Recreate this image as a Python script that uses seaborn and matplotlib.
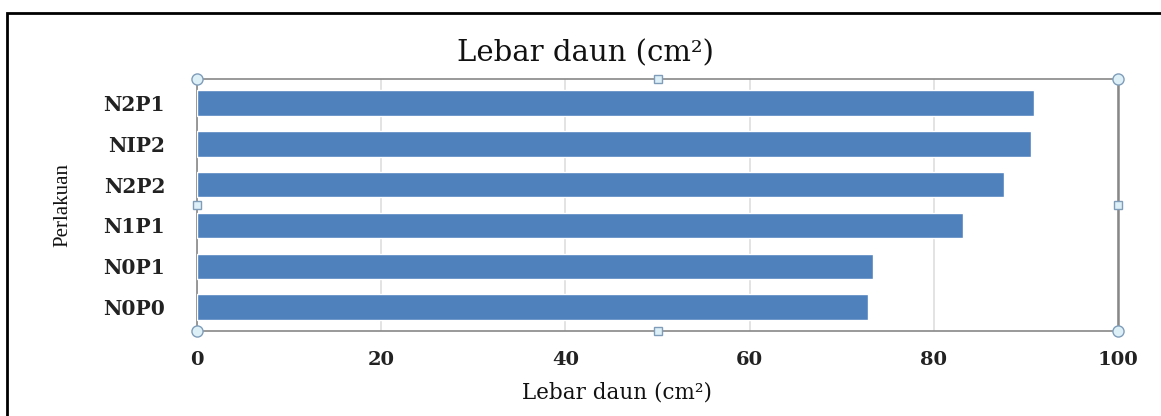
import matplotlib
matplotlib.use('Agg')
import matplotlib.pyplot as plt
import seaborn as sns
import pandas as pd
from matplotlib.patches import Rectangle

# data (top to bottom)
perlakuan = ['N2P1', 'NIP2', 'N2P2', 'N1P1', 'N0P1', 'N0P0']
lebar = [90.9, 90.5, 87.6, 83.2, 73.4, 72.9]
xticks = [0, 20, 40, 60, 80, 100]

df = pd.DataFrame({'Perlakuan': perlakuan, 'Lebar': lebar})

sns.set_theme(style='white')
plt.rcParams['font.family'] = ['DejaVu Serif']

fig = plt.figure(figsize=(11.61, 4.16), dpi=100)
ax = fig.add_axes([0.1697, 0.204, 0.7933, 0.606])

sns.barplot(data=df, y='Perlakuan', x='Lebar', color='#4F81BD', width=0.62,
            saturation=1, ax=ax, zorder=3)

ax.set_xlim(0, 100)
ax.set_xticks(xticks)
ax.set_xticklabels([str(t) for t in xticks], fontsize=14, fontweight='bold',
                   color='#222222')
ax.set_yticklabels(perlakuan, fontsize=14.5, fontweight='bold', color='#222222')
ax.tick_params(axis='both', length=0, pad=14)
ax.tick_params(axis='y', pad=23)
ax.grid(axis='x', color='#DEDEDE', linewidth=1.2, zorder=0)
for s in ax.spines.values():
    s.set_color('#888888')
    s.set_linewidth(1.2)
ax.spines['right'].set_linewidth(1.8)

ax.set_title('Lebar daun (cm²)', fontsize=21, x=0.422, pad=13, color='#111111')
ax.set_xlabel('Lebar daun (cm²)', fontsize=15.5, color='#111111')
ax.xaxis.set_label_coords(0.456, -0.2)
ax.set_ylabel('Perlakuan', fontsize=15, labelpad=22, color='#111111',
              family='Liberation Serif')

# selection handles like the source screenshot
for hx, hy in [(0, 1), (1, 1), (0, 0), (1, 0)]:
    ax.plot(hx, hy, 'o', transform=ax.transAxes, clip_on=False, ms=8,
            mfc='#DDF0F8', mec='#7F9DB9', zorder=5)
for hx, hy in [(0.5, 1), (0.5, 0), (0, 0.5), (1, 0.5)]:
    ax.plot(hx, hy, 's', transform=ax.transAxes, clip_on=False, ms=6,
            mfc='#DDF0F8', mec='#7F9DB9', zorder=5)

# outer chart frame
fig.patches.append(Rectangle((0.006, -0.05), 1.1, 1.018, transform=fig.transFigure,
                             fill=False, edgecolor='black', linewidth=2))

fig.savefig('out.png', dpi=100)
